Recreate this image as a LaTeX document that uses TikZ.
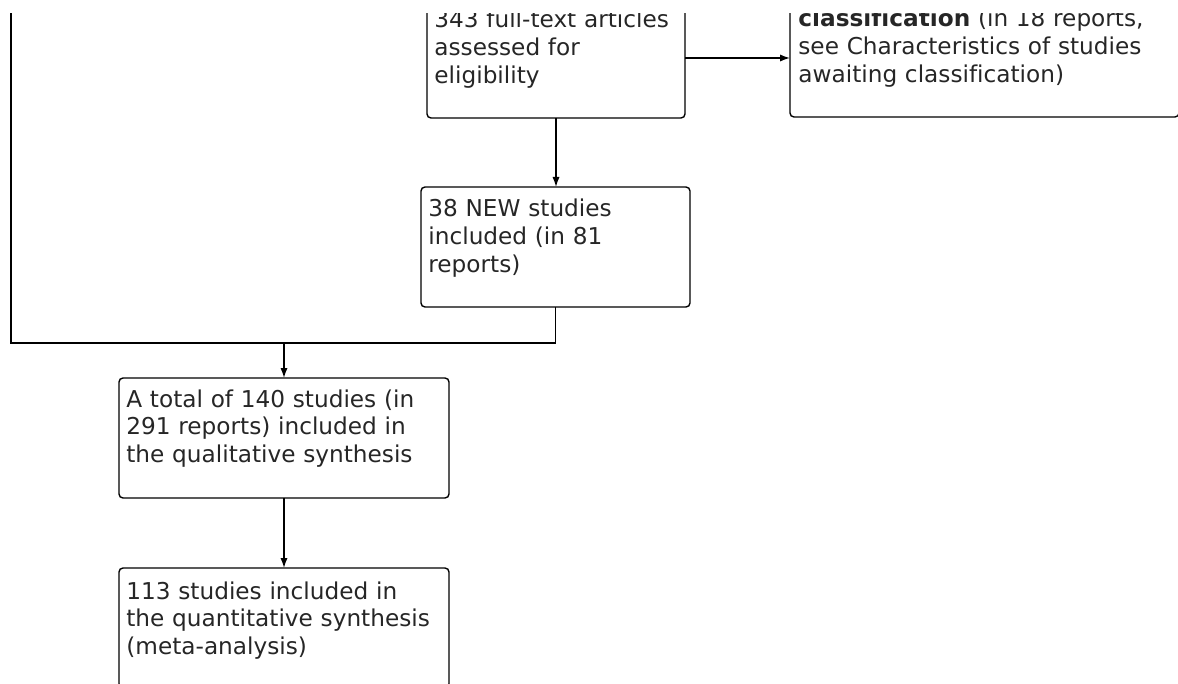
\documentclass[tikz,border=0pt]{standalone}
\usepackage{fontspec}
\setmainfont{DejaVu Sans}[Ligatures=CommonOff]
\usetikzlibrary{calc,positioning,arrows.meta}
\tikzstyle{FlowBox} = [rectangle, draw, rounded corners=2pt, inner sep=0pt,
    outer sep=0pt, anchor=north west, minimum height=60pt, line width=0.7pt]
\tikzstyle{BoxText} = [anchor=base west, inner sep=0pt, text width=190pt,
    align=left, font=\fontsize{11.6}{13.8}\selectfont, text=black!85]
\tikzstyle{Connector} = [line width=0.7pt]
\tikzstyle{arrow} = [line width=0.7pt,-{Latex[length=5pt,width=3.6pt]}]
\begin{document}
\begin{tikzpicture}[x=0.5pt,y=-0.5pt]
        \useasboundingbox (0,0) rectangle (1178,684);
        \clip (0,14) rectangle (1178,684); %blank strip on top
        \node[FlowBox, minimum width=129pt] (FullText) at (427,-2) {}; %full-text
        \node[FlowBox, minimum width=194.5pt] (Awaiting) at (790,-3) {}; %awaiting
        \node[FlowBox, minimum width=134.5pt] (NewStudies) at (421,187) {}; %new studies
        \node[FlowBox, minimum width=165pt] (Qualitative) at (119,378) {}; %qualitative
        \node[FlowBox, minimum width=165pt] (Quantitative) at (119,568) {}; %quantitative
        \node[BoxText] (FullTextLbl) at ($(FullText.north west)+(7,30)$) {
            343 full-text articles\\assessed for\\eligibility
        };
        \node[BoxText] (AwaitingLbl) at ($(Awaiting.north west)+(8,30)$) {
            \textbf{classification} (in 18 reports,\\see Characteristics of studies\\awaiting classification)
        };
        \node[BoxText] (NewStudiesLbl) at ($(NewStudies.north west)+(7,30)$) {
            38 NEW studies\\included (in 81\\reports)
        };
        \node[BoxText] (QualitativeLbl) at ($(Qualitative.north west)+(7,29)$) {
            A total of 140 studies (in\\291 reports) included in\\the qualitative synthesis
        };
        \node[BoxText] (QuantitativeLbl) at ($(Quantitative.north west)+(7,31)$) {
            113 studies included in\\the quantitative synthesis\\(meta-analysis)
        };
        \coordinate (FromAbove) at (11,0);
        \coordinate (Merge) at ($(Qualitative.north)+(0,-35)$);
        \draw[arrow] (FullText.east) -- (FullText.east -| Awaiting.west);
        \draw[arrow] (FullText.south) -- (FullText.south |- NewStudies.north);
        \draw[Connector] (FromAbove) |- (Merge) -| (NewStudies.south);
        \draw[arrow] (Merge) -- (Qualitative.north);
        \draw[arrow] (Qualitative.south) -- (Quantitative.north);
    \end{tikzpicture}
\end{document}
